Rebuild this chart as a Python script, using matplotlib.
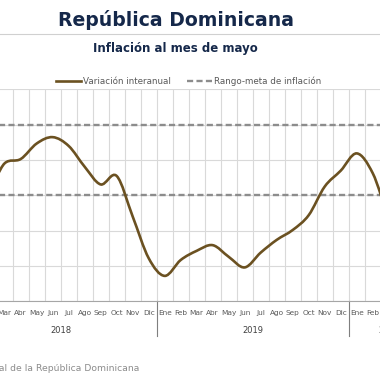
"""Inflación interanual de la República Dominicana, 2018-2020"""

import numpy as np
import matplotlib.pyplot as plt
from matplotlib.path import Path
from matplotlib.patches import PathPatch
from matplotlib.lines import Line2D
from matplotlib.transforms import blended_transform_factory

# datos
meses = ['Ene', 'Feb', 'Mar', 'Abr', 'May', 'Jun', 'Jul', 'Ago', 'Sep', 'Oct', 'Nov', 'Dic'] * 2 \
    + ['Ene', 'Feb', 'Mar', 'Abr', 'May']
anios = ['2018', '2019', '2020']
inflacion = [3.50, 3.20, 3.91, 4.03, 4.47, 4.65, 4.40, 3.81, 3.31, 3.55, 2.40, 1.22,
             0.72, 1.17, 1.43, 1.59, 1.26, 0.96, 1.38, 1.74, 2.02, 2.44, 3.25, 3.70,
             4.19, 3.63, 2.40, 1.70, 2.60]
meta_inf = 3.0
meta_sup = 5.0

marron = '#6b5121'
navy = '#15284a'
gris_meta = '#8c8c8c'


def smooth_path(x, y):
    """curva suavizada tipo Excel (Catmull-Rom como Bezier)"""
    n = len(x)
    verts = [(x[0], y[0])]
    codes = [Path.MOVETO]
    for i in range(n - 1):
        a = max(i - 1, 0)
        d = min(i + 2, n - 1)
        c1 = (x[i] + (x[i + 1] - x[a]) / 6, y[i] + (y[i + 1] - y[a]) / 6)
        c2 = (x[i + 1] - (x[d] - x[i]) / 6, y[i + 1] - (y[d] - y[i]) / 6)
        verts += [c1, c2, (x[i + 1], y[i + 1])]
        codes += [Path.CURVE4] * 3
    return Path(verts, codes)


fig = plt.figure(figsize=(3.8, 3.8), dpi=100)
ax = fig.add_axes([-0.0929, 0.2071, 1.2211, 0.5574])

x = np.arange(len(inflacion))
y = np.array(inflacion)

ax.add_patch(PathPatch(smooth_path(x, y), fill=False, edgecolor=marron,
                       lw=1.9, capstyle='round', joinstyle='round', zorder=4))
for v in (meta_inf, meta_sup):
    ax.axhline(v, color=gris_meta, lw=1.7, ls=(0, (2.6, 1.4)), zorder=3)

ax.set_xlim(-0.5, len(inflacion) - 0.5)
ax.set_ylim(0, 6)
ax.set_xticks(x)
ax.set_xticklabels(meses, fontsize=5.3, color='#595959')
ax.set_xticks(np.arange(-0.5, len(inflacion), 1), minor=True)
ax.set_yticks(range(7))
ax.tick_params(axis='both', which='both', length=0, labelleft=False)
ax.tick_params(axis='x', pad=6.5)
ax.grid(True, which='minor', axis='x', color='#d9d9d9', lw=0.8)
ax.grid(True, which='major', axis='y', color='#d9d9d9', lw=0.8)
for s in ('top', 'left', 'right'):
    ax.spines[s].set_visible(False)
ax.spines['bottom'].set_color('#a6a6a6')
ax.spines['bottom'].set_linewidth(0.8)

# separadores y etiquetas de año
trans = blended_transform_factory(ax.transData, ax.transAxes)
for b in (-0.5, 11.5, 23.5):
    ax.plot([b, b], [0, -0.165], transform=trans, clip_on=False,
            color='#7f7f7f', lw=0.8)
centros = [5.5, 17.5, 26.0]
for c, a in zip(centros, anios):
    ax.text(c, -0.14, a, transform=trans, ha='center', va='center',
            fontsize=6, color='#404040')

# titulos
fig.text(0.462, 0.932, 'República Dominicana', ha='center', va='baseline',
         fontsize=13.6, fontweight='bold', color=navy)
fig.add_artist(Line2D([0, 1], [0.9105, 0.9105], color='#d0d0d0', lw=0.8))
fig.text(0.462, 0.873, 'Inflación al mes de mayo', ha='center', va='center',
         fontsize=8.5, fontweight='bold', color=navy)

handles = [Line2D([], [], color=marron, lw=1.9),
           Line2D([], [], color=gris_meta, lw=1.7, ls=(0, (2.6, 1.4)))]
fig.legend(handles, ['Variación interanual', 'Rango-meta de inflación'],
           loc='center', bbox_to_anchor=(0.497, 0.787), ncol=2, frameon=False,
           fontsize=6.3, labelcolor='#595959', handlelength=2.8,
           handletextpad=0.25, columnspacing=1.9)

fig.text(0.368, 0.029, 'Fuente: Banco Central de la República Dominicana',
         ha='right', va='center', fontsize=6.7, color='#8c8c8c')

fig.savefig('out.png', dpi=100)
